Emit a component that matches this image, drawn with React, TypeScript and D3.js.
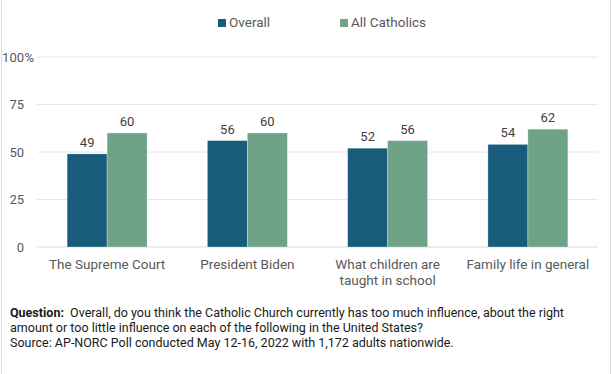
import React from 'react';
import * as d3 from 'd3';

const categories = ['The Supreme Court', 'President Biden', 'What children are\ntaught in school', 'Family life in general'];
const seriesNames = ['Overall', 'All Catholics'];
const overall = [49, 56, 52, 54];
const allCatholics = [60, 60, 56, 62];
const yTicks = [0, 25, 50, 75, 100];
const colors = ['#185b7b', '#6fa388'];
const noteLines = [
  ['Question:', '  Overall, do you think the Catholic Church currently has too much influence, about the right'],
  ['', 'amount or too little influence on each of the following in the United States?'],
  ['', 'Source: AP-NORC Poll conducted May 12-16, 2022 with 1,172 adults nationwide.'],
];

const width = 612;
const height = 374;
const margin = { top: 57, right: 14, bottom: 127, left: 37 };

export default function App() {
  const series = [overall, allCatholics];
  const x = d3.scaleBand<string>()
    .domain(categories)
    .range([margin.left, width - margin.right])
    .paddingInner(0.43)
    .paddingOuter(0.215);
  const xs = d3.scaleBand<string>()
    .domain(seriesNames)
    .range([0, x.bandwidth()]);
  const y = d3.scaleLinear()
    .domain([0, 100])
    .range([height - margin.bottom, margin.top]);

  const font = 'Roboto, "Noto Sans", sans-serif';

  return (
    <div style={{ position: 'absolute', left: 0, top: 0 }}>
      <svg width={width} height={height} style={{ display: 'block', fontFamily: font }}>
        <rect x={0} y={0} width={width} height={height} fill="#fff" />
        <line x1={1.5} x2={1.5} y1={0} y2={height} stroke="#dcdcdc" />
        <line x1={width - 1.5} x2={width - 1.5} y1={0} y2={height} stroke="#dcdcdc" />

        {/* legend */}
        {seriesNames.map((name, i) => {
          const lx = [218, 340][i];
          return (
            <g key={name}>
              <rect x={lx} y={19} width={8} height={8} fill={colors[i]} />
              <text x={lx + 11} y={27} fontSize={13.5} fill="#595959">{name}</text>
            </g>
          );
        })}

        {/* gridlines and y ticks */}
        {yTicks.map((t) => (
          <g key={t}>
            <line x1={margin.left} x2={width - margin.right} y1={y(t)} y2={y(t)}
              stroke={t === 0 ? '#d9d9d9' : '#e6e6e6'} strokeWidth={1} />
            <text x={24} y={y(t)} dy="0.35em" textAnchor="end" fontSize={13} fill="#595959">{t}</text>
            {t === 100 && (
              <text x={24.5} y={y(t)} dy="0.35em" fontSize={13} fill="#595959">%</text>
            )}
          </g>
        ))}

        {/* bars */}
        {categories.map((c, ci) => (
          <g key={c} transform={`translate(${x(c)},0)`}>
            {seriesNames.map((s, si) => {
              const v = series[si][ci];
              return (
                <g key={s}>
                  <rect x={xs(s)} y={y(v)} width={xs.bandwidth()} height={y(0) - y(v)}
                    fill={colors[si]} stroke="#ffffff" strokeOpacity={0.35} strokeWidth={0.8} />
                  <text x={(xs(s) || 0) + xs.bandwidth() / 2} y={y(v) - 7} textAnchor="middle"
                    fontSize={13} fill="#404040">{v}</text>
                </g>
              );
            })}
          </g>
        ))}

        {/* category labels */}
        {categories.map((c) => (
          <text key={c} x={(x(c) || 0) + x.bandwidth() / 2} y={269} textAnchor="middle" fontSize={13.5} fill="#595959">
            {c.split('\n').map((line, li) => (
              <tspan key={li} x={(x(c) || 0) + x.bandwidth() / 2} dy={li === 0 ? 0 : 16}>{line}</tspan>
            ))}
          </text>
        ))}

        {/* note */}
        {noteLines.map(([bold, rest], i) => (
          <text key={i} x={10} y={317 + i * 15} fontSize={12.5} fill="#1a1a1a" style={{ whiteSpace: 'pre' }}>
            {bold && <tspan fontWeight="bold">{bold}</tspan>}
            <tspan>{rest}</tspan>
          </text>
        ))}
      </svg>
    </div>
  );
}
